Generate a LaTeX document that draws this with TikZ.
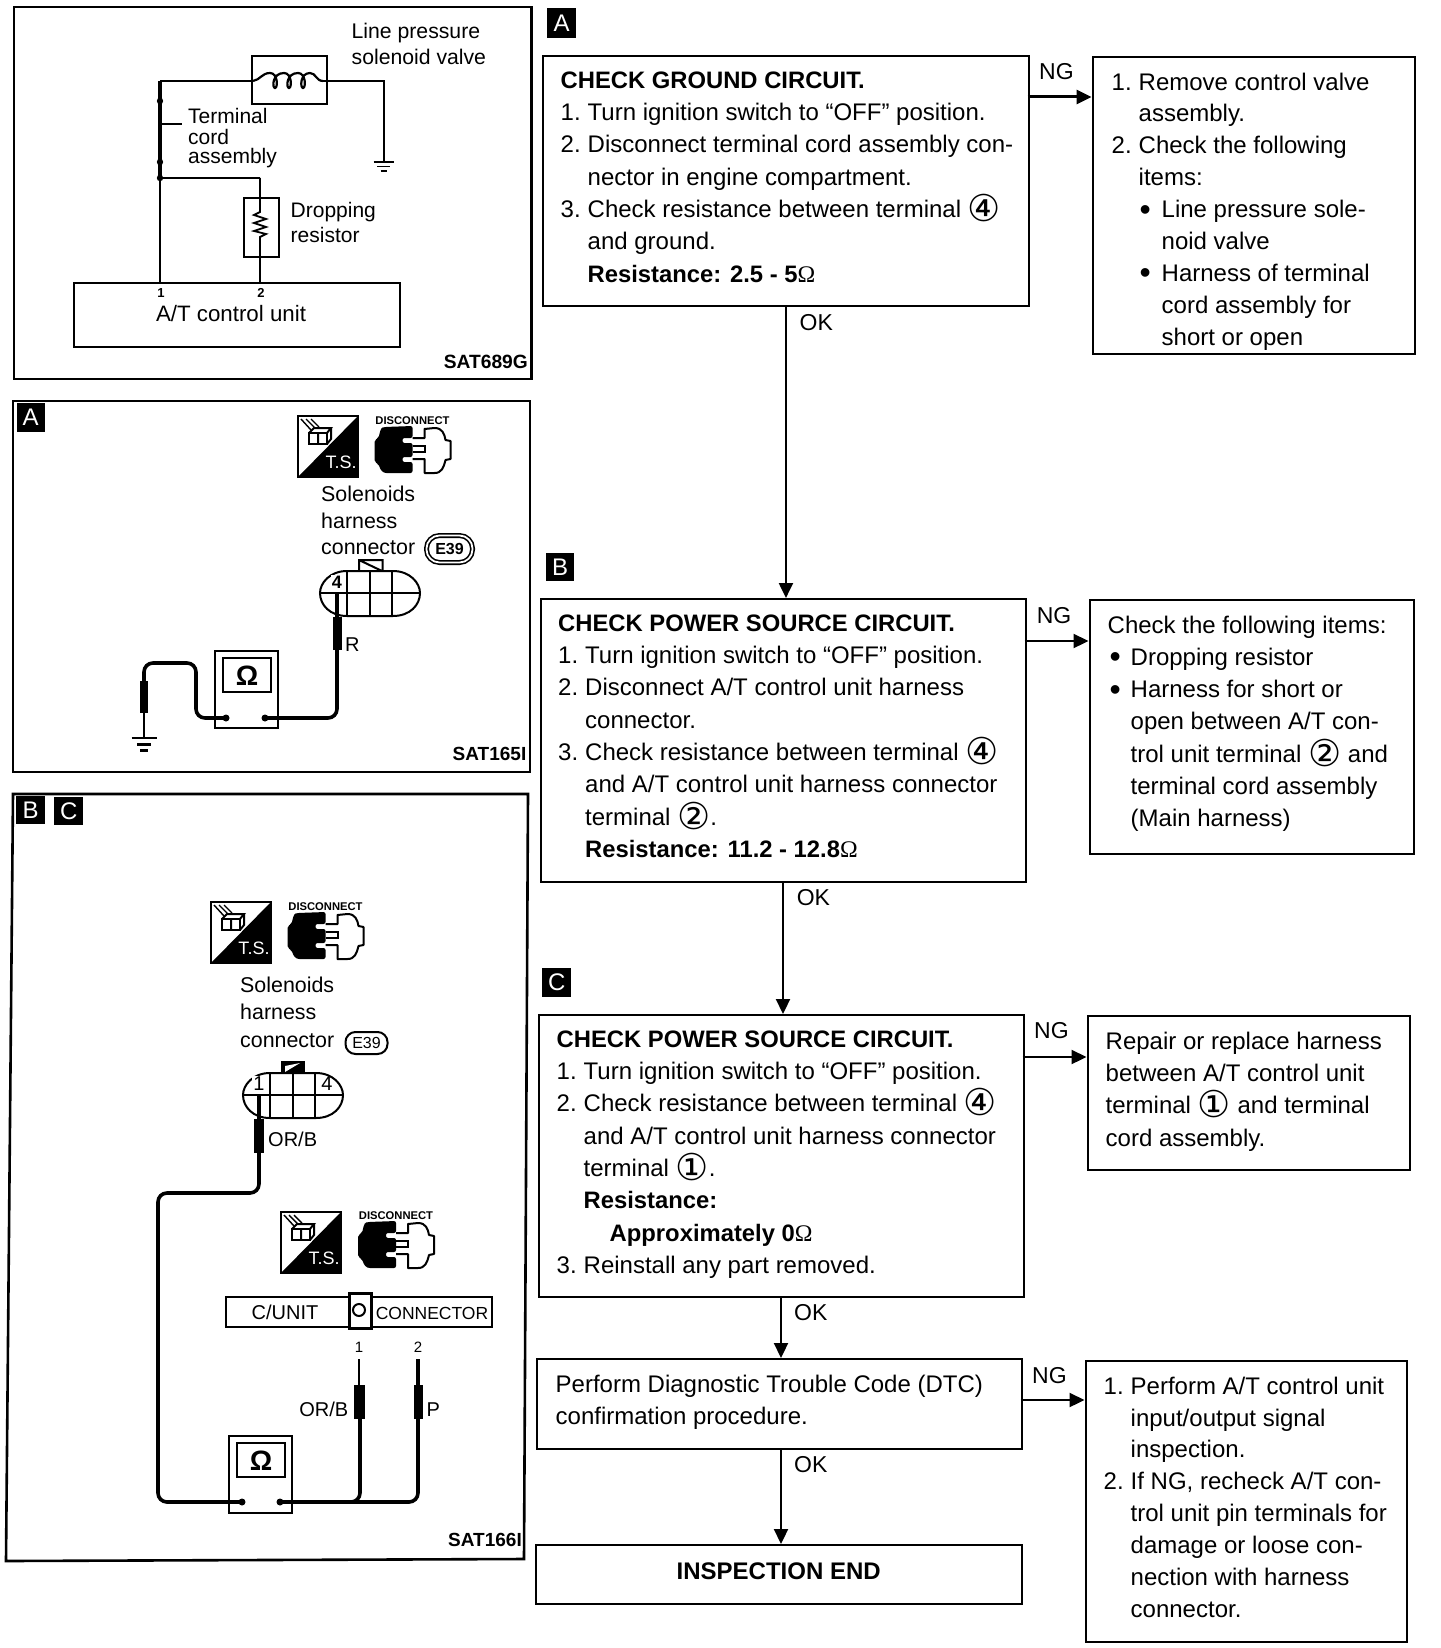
\documentclass[tikz,border=0pt]{standalone}
\usepackage{fontspec}
\setmainfont{Liberation Sans}
\newfontfamily\djfont{DejaVu Sans}
\newfontfamily\omfont{Liberation Serif}
\usetikzlibrary{arrows.meta,calc}
\newcommand\ftxt[4]{\parbox[c][#2pt][t]{#1pt}{\fontsize{24}{32.3}\selectfont\lineskiplimit=-100pt\raggedright\leftskip=#3pt\parindent=0pt\vspace*{15.5pt}\rule[-6pt]{0pt}{18pt}#4}}
\newcommand\nm[1]{\makebox[27pt][l]{#1}}
\newcommand\idt{\hspace*{27pt}}
\newcommand\bul[1]{\makebox[23pt][l]{\hspace{#1pt}\raisebox{-2.5pt}[0pt][0pt]{\fontsize{32}{32}\selectfont •}}}
\newcommand\bb[1]{{\fontsize{23.8}{32.3}\selectfont\bfseries #1}}
\newcommand\cn[1]{\smash{\raisebox{-4pt}{\djfont\fontsize{37}{37}\selectfont #1}}}
\newcommand\om{{\omfont\mdseries Ω}}
\tikzset{
  fs/.style={font=\fontsize{#1}{#1}\selectfont,inner sep=0pt,anchor=base west},
  fsb/.style={font=\fontsize{#1}{#1}\selectfont\bfseries,inner sep=0pt,anchor=base west},
  flowbox/.style={draw,line width=2.4pt,inner sep=0pt,anchor=north west},
  badge/.style={fill=black,text=white,inner sep=0pt,anchor=north west,font=\fontsize{24}{24}\selectfont},
  arr/.style={line width=2.2pt,-{Triangle[length=15pt,width=14pt]}},
  frame/.style={line width=2.6pt},
  wire/.style={line width=3.6pt,rounded corners=9pt},
  lead/.style={line width=3.2pt},
}
\newcommand\tsicon[3]{\begin{scope}[shift={(#2,#3)}]
  \draw[line width=2pt] (0,0) rectangle (60,61);
  \fill (60,0) -- (60,61) -- (0,61) -- cycle;
  \node[fs=18,text=white,anchor=center] (#1-ts) at (43,46) {T.S.};
  \draw[line width=2pt] (11,17) rectangle (29,28);
  \draw[line width=2pt] (20,17) -- (20,28) (11,17) -- (16,12) -- (33,12) -- (29,17) (33,12) -- (33,23) -- (29,28);
  \draw[line width=1.4pt] (3,3) -- (13,14) (8,3) -- (17,12) (13,3) -- (21,11);
\end{scope}}
\newcommand\discicon[3]{\begin{scope}[shift={(#2,#3)}]
  \node[fsb=11.2,anchor=base] (#1-disc) at (38,-2) {DISCONNECT};
  \fill[rounded corners=2pt] (38,0) -- (10,1) .. controls (6,2) and (5,8) .. (4,12) -- (0,14) -- (0,36) -- (4,38) .. controls (6,44) and (8,47) .. (14,47) -- (38,47) -- (38,36) -- (28,36) -- (28,31) -- (38,31) -- (38,17) -- (28,17) -- (28,12) -- (38,12) -- cycle;
  \draw[line width=2pt,line join=round] (38,12) -- (50,12) -- (50,3) -- (60,2) .. controls (68,2) and (70,8) .. (71,14) -- (76,15) -- (76,33) -- (71,34) .. controls (69,42) and (67,47) .. (60,47) -- (50,47) -- (50,33) -- (38,33);
  \draw[line width=2pt] (38,20) -- (50,20) -- (50,26) -- (38,26);
\end{scope}}
\newcommand\conn[2]{\begin{scope}[shift={(#1,#2)}]
  \draw[line width=2pt] (27,0) -- (73,0) .. controls (90,0) and (100,12) .. (100,22) .. controls (100,34) and (90,45) .. (73,45) -- (27,45) .. controls (10,45) and (0,34) .. (0,22) .. controls (0,12) and (10,0) .. (27,0);
  \draw[line width=2pt] (0,22) -- (100,22) (27,0) -- (27,45) (50,0) -- (50,45) (72,0) -- (72,45);
\end{scope}}
\newcommand\meter[3]{\begin{scope}[shift={(#2,#3)}]
  \draw[line width=2.4pt] (0,0) rectangle (63,77);
  \draw[line width=2.4pt] (8,7) rectangle (56,41);
  \node[fsb=28,anchor=center] (#1) at (32,25) {Ω};
\end{scope}}
\begin{document}
\begin{tikzpicture}[x=1pt,y=-1pt]
\useasboundingbox (0,0) rectangle (1440,1648);
\fill[white] (0,0) rectangle (1440,1648);

% ---------- panel 1
\draw[frame] (14,7) rectangle (531.5,379);
\node[fs=21.2] (lp1) at (351.5,39) {Line pressure};
\node[fs=21.2] (lp2) at (351.5,65) {solenoid valve};
\node[draw,line width=2.4pt,minimum width=75pt,minimum height=48pt,inner sep=0pt,anchor=north west] (sol) at (250.5,55) {};
\node[draw,line width=2.4pt,minimum width=35pt,minimum height=59pt,inner sep=0pt,anchor=north west] (res) at (243,197) {};
\node[draw,line width=2.4pt,minimum width=326pt,minimum height=64pt,inner sep=0pt,anchor=north west] (tcu) at (72.5,282) {};
\draw[line width=2pt] (160,282) -- (160,178);
\draw[line width=3.2pt] (160,178) -- (160,81);
\draw[line width=2.4pt] (160,81) -- (253,81);
\draw[line width=2.2pt] (253,81) .. controls (260,80) and (262,73) .. (270,73) .. controls (278,73) and (278,88) .. (275,88) .. controls (272,88) and (272,73) .. (284,73) .. controls (292,73) and (292,88) .. (289,88) .. controls (286,88) and (286,73) .. (298,73) .. controls (306,73) and (306,88) .. (303,88) .. controls (300,88) and (300,73) .. (310,73) .. controls (316,73) and (316,81) .. (323,81);
\draw[line width=2pt] (323,81) -- (383.5,81) -- (383.5,162);
\draw[line width=1.8pt] (373.5,162) -- (393.5,162) (377,166.5) -- (390,166.5) (380.5,171) -- (386.5,171);
\draw[line width=2pt] (160,124) -- (182,124);
\fill (160,101) circle[radius=3.2] (160,162) circle[radius=3.2] (160,178) circle[radius=3.2];
\draw[line width=2.6pt] (160,178) -- (260,178);
\draw[line width=1.8pt] (260,178) -- (260,212) -- (254,215) -- (266,219) -- (254,223) -- (266,227) -- (254,231) -- (266,234) -- (260,237) -- (260,282);
\node[fs=21] (t1) at (188,124) {Terminal};
\node[fs=21] (t2) at (188,145) {cord};
\node[fs=21] (t3) at (188,164) {assembly};
\node[fs=21] (d1) at (290.5,217) {Dropping};
\node[fs=21] (d2) at (290.5,242) {resistor};
\node[fsb=13,anchor=base] (p1) at (161,297) {1};
\node[fsb=13,anchor=base] (p2) at (261,297) {2};
\node[fs=22.3,anchor=base] (tcut) at (231,321) {A/T control unit};
\node[fsb=19.2,anchor=base east] (sat1) at (528,368) {SAT689G};

% ---------- panel 2
\draw[frame] (13,401) rectangle (530,772);
\node[badge,minimum width=28pt,minimum height=29pt] (pa) at (16.5,403) {A};
\tsicon{i1}{298}{416}
\discicon{i1}{374.5}{426}
\node[fs=21.4] (s1) at (321,501) {Solenoids};
\node[fs=21.4] (s2) at (321,528) {harness};
\node[fs=21.4] (s3) at (321,554) {connector};
\node[draw,double,double distance=1.8pt,line width=1.6pt,rounded corners=13pt,font=\fontsize{16}{16}\selectfont\bfseries,minimum width=46pt,minimum height=27pt,inner sep=0pt] (e1) at (449.5,549) {E39};
\conn{320}{571}
\draw[line width=2pt] (359,571) -- (359,560) -- (382.5,560) -- (382.5,571) (359,560) -- (382,571);
\node[fsb=18,anchor=center,fill=white,inner sep=1pt] (n4a) at (337,582) {4};
\draw[lead] (337,592) -- (337,617);
\fill (333,617) rectangle (342,650);
\node[fs=20] (rl) at (345,651) {R};
\draw[wire] (337,650) -- (337,718) -- (265,718);
\fill (265,718) circle[radius=3.5];
\meter{m1}{215}{651}
\fill (226,718) circle[radius=3.5];
\draw[wire] (226,718) -- (196,718) -- (196,663) -- (144,663) -- (144,681);
\fill (140,681) rectangle (148,713);
\draw[line width=2.6pt] (144,713) -- (144,738);
\draw[line width=2.8pt] (131.5,738) -- (157,738);
\draw[line width=3pt] (137,744) -- (151,744);
\draw[line width=3pt] (140,750) -- (148,750);
\node[fsb=19,anchor=base east] (sat2) at (526.5,760) {SAT165I};

% ---------- panel 3
\draw[frame] (13,794) -- (528,794) -- (524,1559) -- (6,1561) -- cycle;
\node[badge,minimum width=29pt,minimum height=28pt] (pb) at (16,796) {B};
\node[badge,minimum width=29pt,minimum height=28pt] (pc) at (54,797) {C};
\tsicon{i2}{211}{902}
\discicon{i2}{287.5}{912}
\node[fs=21.4] (s4) at (240,992) {Solenoids};
\node[fs=21.4] (s5) at (240,1019) {harness};
\node[fs=21.4] (s6) at (240,1047) {connector};
\node[draw,line width=2pt,rounded corners=10pt,font=\fontsize{16}{16}\selectfont,minimum width=42pt,minimum height=22pt,inner sep=0pt] (e2) at (366.5,1043) {E39};
\conn{243}{1073}
\fill (281,1061) rectangle (304.5,1073);
\fill[white] (285,1072) -- (285,1066) -- (300,1063) -- cycle;
\node[fs=20,anchor=center,fill=white,inner sep=1pt] (n1b) at (259,1084) {1};
\node[fs=20,anchor=center] (n4b) at (327,1084) {4};
\draw[lead] (259,1094) -- (259,1119);
\fill (254,1119) rectangle (264,1153);
\node[fs=20] (orb1) at (268,1146) {OR/B};
\draw[wire] (259,1153) -- (259,1193) -- (158,1193) -- (158,1502) -- (242,1502);
\fill (242,1502) circle[radius=3.5];
\tsicon{i3}{281}{1212}
\discicon{i3}{358}{1221}
\draw[line width=2.6pt] (226,1297) rectangle (492,1327);
\node[fs=20,anchor=base] (cu) at (285,1319) {C/UNIT};
\node[draw,line width=2.6pt,fill=white,minimum width=22pt,minimum height=35pt,inner sep=0pt,anchor=north west] (sep) at (348,1292) {};
\draw[line width=2pt] (359,1310) circle[radius=6];
\node[fs=17.5,anchor=base] (cn) at (432,1319) {CONNECTOR};
\node[fs=15,anchor=base] (n1c) at (359,1352) {1};
\node[fs=15,anchor=base] (n2c) at (418,1352) {2};
\draw[line width=2.2pt] (359,1359) -- (359,1385);
\fill (354,1385) rectangle (365,1419);
\draw[line width=3.6pt] (418,1359) -- (418,1385);
\fill (414,1385) rectangle (423,1419);
\node[fs=20,anchor=base east] (orb2) at (348.5,1416) {OR/B};
\node[fs=20] (pl) at (426.5,1416) {P};
\meter{m2}{229}{1436}
\draw[wire] (360,1419) -- (360,1502) -- (340,1502);
\draw[wire] (418,1419) -- (418,1502) -- (280,1502);
\fill (280,1502) circle[radius=3.5];
\node[fsb=19,anchor=base east] (sat3) at (522,1546) {SAT166I};

% ---------- flow chart
\node[badge,minimum width=28.6pt,minimum height=30pt] (la) at (547,8) {A};
\node[badge,minimum width=28pt,minimum height=28pt] (lb) at (546,553) {B};
\node[badge,minimum width=29pt,minimum height=29pt] (lc) at (542,968) {C};

\node[flowbox] (b1) at (542,55) {\ftxt{485.5}{250}{17.5}{%
\bb{CHECK GROUND CIRCUIT.}\\
\nm{1.}Turn ignition switch to “OFF” position.\\
\nm{2.}Disconnect terminal cord assembly con-\\
\idt nector in engine compartment.\\
\nm{3.}Check resistance between terminal \cn{④}\\
\idt and ground.\\
\idt\bb{Resistance: 2.5 - 5\om}}};

\node[flowbox] (r1) at (1091.5,56) {\ftxt{322}{297}{19}{\baselineskip=31.9pt
\nm{1.}Remove control valve\\
\idt assembly.\\
\nm{2.}Check the following\\
\idt items:\\
\idt\bul{1}Line pressure sole-\\
\idt\hspace*{23pt}noid valve\\
\idt\bul{1}Harness of terminal\\
\idt\hspace*{23pt}cord assembly for\\
\idt\hspace*{23pt}short or open}};

\node[flowbox] (b2) at (539.5,598) {\ftxt{485}{283}{17.5}{%
\bb{CHECK POWER SOURCE CIRCUIT.}\\
\nm{1.}Turn ignition switch to “OFF” position.\\
\nm{2.}Disconnect A/T control unit harness\\
\idt connector.\\
\nm{3.}Check resistance between terminal \cn{④}\\
\idt and A/T control unit harness connector\\
\idt terminal \cn{②}.\\
\idt\bb{Resistance: 11.2 - 12.8\om}}};

\node[flowbox] (r2) at (1088.5,599) {\ftxt{324}{254}{18}{%
Check the following items:\\
\bul{2}Dropping resistor\\
\bul{2}Harness for short or\\
\hspace*{23pt}open between A/T con-\\
\hspace*{23pt}trol unit terminal \cn{②} and\\
\hspace*{23pt}terminal cord assembly\\
\hspace*{23pt}(Main harness)}};

\node[flowbox] (b3) at (538,1014) {\ftxt{484.5}{282}{17.5}{%
\bb{CHECK POWER SOURCE CIRCUIT.}\\
\nm{1.}Turn ignition switch to “OFF” position.\\
\nm{2.}Check resistance between terminal \cn{④}\\
\idt and A/T control unit harness connector\\
\idt terminal \cn{①}.\\
\idt\bb{Resistance:}\\
\idt\hspace*{26pt}\bb{Approximately 0\om}\\
\nm{3.}Reinstall any part removed.}};

\node[flowbox] (r3) at (1086.5,1015) {\ftxt{322}{154}{18}{%
Repair or replace harness\\
between A/T control unit\\
terminal \cn{①} and terminal\\
cord assembly.}};

\node[flowbox] (b4) at (536,1358) {\ftxt{484.5}{90}{18.5}{%
Perform Diagnostic Trouble Code (DTC)\\
confirmation procedure.}};

\node[flowbox,minimum width=486pt,minimum height=59pt,font=\fontsize{24}{24}\selectfont\bfseries] (b5) at (534.5,1544) {\raisebox{7pt}{INSPECTION END}};

\node[flowbox] (r4) at (1084.5,1360) {\ftxt{321.5}{281}{18}{\baselineskip=31.9pt
\nm{1.}Perform A/T control unit\\
\idt input/output signal\\
\idt inspection.\\
\nm{2.}If NG, recheck A/T con-\\
\idt trol unit pin terminals for\\
\idt damage or loose con-\\
\idt nection with harness\\
\idt connector.}};

\draw[arr] (b1.south) -- (b1.south |- b2.north);
\coordinate (o2) at (783,881);
\coordinate (o3) at (781,1296);
\coordinate (o4) at (781,1448);
\draw[arr] (o2) -- (o2 |- b3.north);
\draw[arr] (o3) -- (o3 |- b4.north);
\draw[arr] (o4) -- (o4 |- b5.north);

\coordinate (e1c) at (1027.5,97);
\coordinate (e2c) at (1024.5,641);
\coordinate (e3c) at (1022.5,1057);
\coordinate (e4c) at (1020.5,1400);
\draw[arr,line width=3pt] (e1c) -- (e1c -| r1.west);
\draw[arr] (e2c) -- (e2c -| r2.west);
\draw[arr] (e3c) -- (e3c -| r3.west);
\draw[arr] (e4c) -- (e4c -| r4.west);

\node[fs=23] (ng1) at (1039,80) {NG};
\node[fs=23] (ok1) at (799.5,330) {OK};
\node[fs=23] (ng2) at (1036.6,623) {NG};
\node[fs=23] (ok2) at (796.6,905) {OK};
\node[fs=23] (ng3) at (1034,1038) {NG};
\node[fs=23] (ok3) at (794,1320) {OK};
\node[fs=23] (ng4) at (1032,1383) {NG};
\node[fs=23] (ok4) at (794,1472) {OK};
\end{tikzpicture}
\end{document}
